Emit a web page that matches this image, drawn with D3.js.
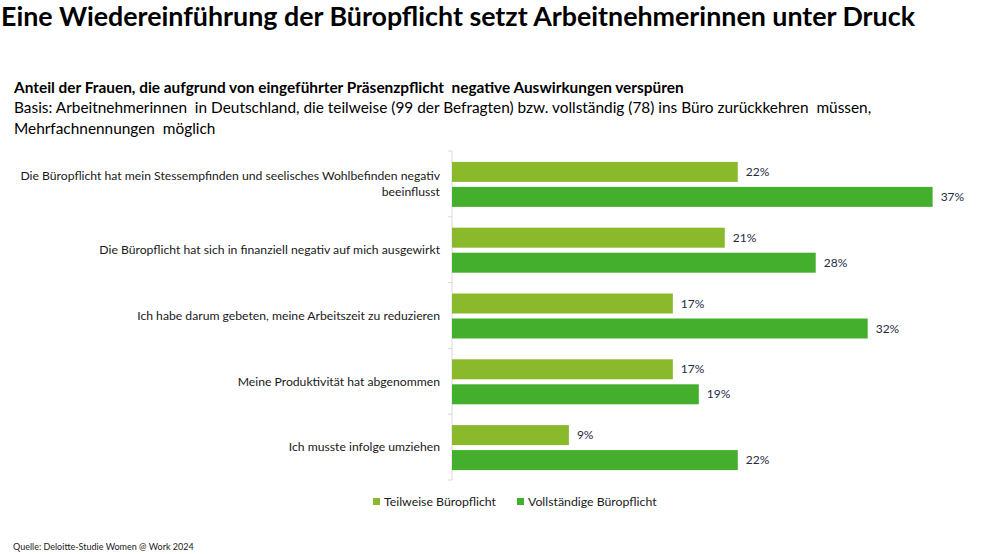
<!DOCTYPE html>
<html><head><meta charset="utf-8">
<script src="https://cdn.jsdelivr.net/npm/d3@7"></script>
<style>body{margin:0;background:#fff}svg{display:block}text{font-family:Lato,"Open Sans",sans-serif;white-space:pre}</style>
</head><body>
<svg id="c" width="1000" height="554"></svg>
<script>
const categories = [
  ["Die Büropflicht hat mein Stessempfinden und seelisches Wohlbefinden negativ", "beeinflusst"],
  ["Die Büropflicht hat sich in finanziell negativ auf mich ausgewirkt"],
  ["Ich habe darum gebeten, meine Arbeitszeit zu reduzieren"],
  ["Meine Produktivität hat abgenommen"],
  ["Ich musste infolge umziehen"]
];
const seriesNames = ["Teilweise Büropflicht", "Vollständige Büropflicht"];
const teilweise = [22, 21, 17, 17, 9];
const vollstaendig = [37, 28, 32, 19, 22];
const colors = ["#8aba2b", "#44ae2d"];

const svg = d3.select("#c");
svg.append("text").attr("x", 1).attr("y", 26).attr("font-size", 26.8).attr("font-weight", 700).attr("fill", "#000")
  .text("Eine Wiedereinführung der Büropflicht setzt Arbeitnehmerinnen unter Druck");
svg.append("text").attr("x", 14).attr("y", 93).attr("font-size", 15.4).attr("font-weight", 700).attr("fill", "#000")
  .text("Anteil der Frauen, die aufgrund von eingeführter Präsenzpflicht  negative Auswirkungen verspüren");
svg.append("text").attr("x", 14).attr("y", 113).attr("font-size", 15.4).attr("fill", "#000")
  .text("Basis: Arbeitnehmerinnen  in Deutschland, die teilweise (99 der Befragten) bzw. vollständig (78) ins Büro zurückkehren  müssen,");
svg.append("text").attr("x", 14).attr("y", 134).attr("font-size", 15.4).attr("fill", "#000")
  .text("Mehrfachnennungen  möglich");

const x0 = 452, plotTop = 151, plotBottom = 480;
const x = d3.scaleLinear().domain([0, 37]).range([x0, x0 + 37 * 12.99]);
const y = d3.scaleBand().domain(d3.range(categories.length)).range([plotTop, plotBottom]).paddingInner(0).paddingOuter(0);
const yi = d3.scaleBand().domain([0, 1]).range([0, 45]).paddingInner(0.2);
const yOff = (y.bandwidth() - 45) / 2 + 0.5;

// axis
const ax = svg.append("g").attr("transform", `translate(${x0},0)`);
ax.append("line").attr("y1", plotTop).attr("y2", plotBottom).attr("stroke", "#d9d9d9").attr("stroke-width", 1);
d3.range(categories.length + 1).forEach(i => {
  const yy = plotTop + i * y.step();
  ax.append("line").attr("x1", -4).attr("x2", 0).attr("y1", yy).attr("y2", yy).attr("stroke", "#d9d9d9");
});

const data = [teilweise, vollstaendig];
categories.forEach((cat, i) => {
  const g = svg.append("g").attr("transform", `translate(0,${y(i) + yOff})`);
  data.forEach((arr, s) => {
    g.append("rect").attr("x", x(0)).attr("y", yi(s)).attr("width", x(arr[i]) - x(0)).attr("height", yi.bandwidth())
      .attr("fill", colors[s]);
    g.append("text").attr("x", x(arr[i]) + 8).attr("y", yi(s) + yi.bandwidth() / 2).attr("dy", "0.35em")
      .attr("font-size", 12).attr("fill", "#1f2b45").text(arr[i] + "%");
  });
  const cy = y(i) + y.bandwidth() / 2;
  const lh = 16;
  cat.forEach((line, k) => {
    svg.append("text").attr("x", 440).attr("y", cy + (k - (cat.length - 1) / 2) * lh).attr("dy", "0.35em")
      .attr("text-anchor", "end").attr("font-size", 12.2).attr("fill", "#1a1a1a").text(line);
  });
});

// legend
const lg = [{x: 373, t: seriesNames[0]}, {x: 517, t: seriesNames[1]}];
lg.forEach((d, s) => {
  svg.append("rect").attr("x", d.x).attr("y", 498).attr("width", 7).attr("height", 7).attr("fill", colors[s]);
  svg.append("text").attr("x", d.x + 11).attr("y", 502).attr("dy", "0.35em").attr("font-size", 12.3).attr("fill", "#1a1a1a").text(d.t);
});

svg.append("text").attr("x", 13).attr("y", 550).attr("font-size", 9).attr("fill", "#1a1a1a")
  .text("Quelle: Deloitte-Studie Women @ Work 2024");
</script>
</body></html>
